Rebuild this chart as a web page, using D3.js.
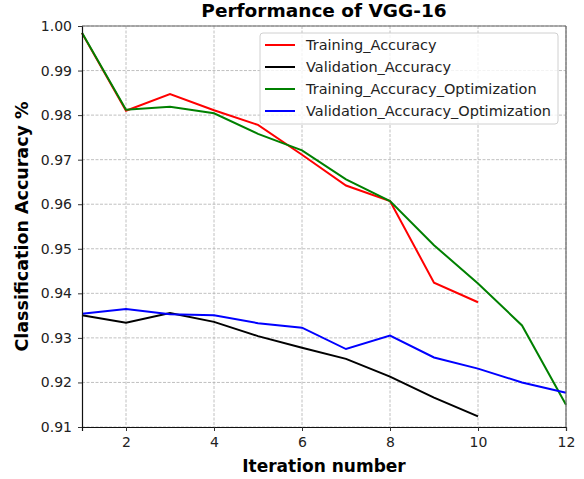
<!DOCTYPE html>
<html>
<head>
<meta charset="utf-8">
<script src="https://cdn.jsdelivr.net/npm/d3@7"></script>
<style>
  body { margin: 0; background: #fff; }
  text { font-family: "DejaVu Sans", sans-serif; }
</style>
</head>
<body>
<div id="chart"></div>
<script>
// Données
var iterations = [1, 2, 3, 4, 5, 6, 7, 8, 9, 10, 11, 12];
var training_accuracy = [0.9984, 0.9810, 0.9847, 0.9811, 0.9778, 0.9711, 0.9642, 0.9607, 0.9424, 0.9380];
var validation_accuracy = [0.9351, 0.9334, 0.9356, 0.9336, 0.9304, 0.9278, 0.9253, 0.9213, 0.9166, 0.9124];
var training_accuracy_opt = [0.9985, 0.9812, 0.9819, 0.9804, 0.9758, 0.9721, 0.9656, 0.9607, 0.9508, 0.9422, 0.9328, 0.9150];
var validation_accuracy_opt = [0.9354, 0.9365, 0.9353, 0.9351, 0.9333, 0.9323, 0.9275, 0.9305, 0.9256, 0.9231, 0.9200, 0.9177];
var series_names = ["Training_Accuracy", "Validation_Accuracy", "Training_Accuracy_Optimization", "Validation_Accuracy_Optimization"];
var series_colors = ["#ff0000", "#000000", "#008000", "#0000ff"];
var x_ticks = [2, 4, 6, 8, 10, 12];
var y_ticks = [0.91, 0.92, 0.93, 0.94, 0.95, 0.96, 0.97, 0.98, 0.99, 1.00];

var all_series = [training_accuracy, validation_accuracy, training_accuracy_opt, validation_accuracy_opt];

// Dimensions
var margin = { top: 26, right: 18, bottom: 52, left: 82 },
    width = 584 - margin.left - margin.right,
    height = 479 - margin.top - margin.bottom;

var svg = d3.select("#chart").append("svg")
    .attr("width", 584)
    .attr("height", 479);

var g = svg.append("g")
    .attr("transform", "translate(" + margin.left + "," + margin.top + ")");

// Echelles
var x = d3.scaleLinear().domain([1, 12]).range([0, width]);
var y = d3.scaleLinear().domain([0.91, 1.00]).range([height, 0]);

// Grille
g.append("g").selectAll("line")
    .data(x_ticks)
    .enter().append("line")
    .attr("x1", function (d) { return x(d); })
    .attr("x2", function (d) { return x(d); })
    .attr("y1", 0).attr("y2", height)
    .attr("stroke", "#b0b0b0").attr("stroke-width", 0.8)
    .attr("stroke-dasharray", "3,1.5");

g.append("g").selectAll("line")
    .data(y_ticks)
    .enter().append("line")
    .attr("x1", 0).attr("x2", width)
    .attr("y1", function (d) { return y(d); })
    .attr("y2", function (d) { return y(d); })
    .attr("stroke", "#b0b0b0").attr("stroke-width", 0.8)
    .attr("stroke-dasharray", "3,1.5");

// Courbes
var line = d3.line()
    .x(function (d, i) { return x(iterations[i]); })
    .y(function (d) { return y(d); });

all_series.forEach(function (s, k) {
    g.append("path")
        .datum(s)
        .attr("fill", "none")
        .attr("stroke", series_colors[k])
        .attr("stroke-width", 2)
        .attr("d", line);
});

// Axes
var xAxis = g.append("g")
    .attr("transform", "translate(0," + height + ")")
    .call(d3.axisBottom(x).tickValues(x_ticks).tickFormat(d3.format("d")).tickSizeOuter(0).tickSize(4).tickPadding(6));
var yAxis = g.append("g")
    .call(d3.axisLeft(y).tickValues(y_ticks).tickFormat(d3.format(".2f")).tickSizeOuter(0).tickSize(4).tickPadding(6));

[xAxis, yAxis].forEach(function (a) {
    a.selectAll("text").style("font-size", "14px").attr("fill", "#222");
    a.selectAll(".tick line").attr("stroke", "#333");
    a.select(".domain").attr("stroke", "#111").attr("stroke-width", 1.2);
});

// Cadre haut et droite
g.append("line").attr("x1", 0).attr("x2", width).attr("y1", 0).attr("y2", 0)
    .attr("stroke", "#666").attr("stroke-width", 1.2);
g.append("line").attr("x1", width).attr("x2", width).attr("y1", 0).attr("y2", height)
    .attr("stroke", "#666").attr("stroke-width", 1.2);

// Titres
svg.append("text")
    .attr("x", margin.left + width / 2)
    .attr("y", 17)
    .attr("text-anchor", "middle")
    .style("font-size", "18.5px")
    .style("font-weight", "bold")
    .text("Performance of VGG-16");

svg.append("text")
    .attr("x", margin.left + width / 2)
    .attr("y", 472)
    .attr("text-anchor", "middle")
    .style("font-size", "17px")
    .style("font-weight", "bold")
    .text("Iteration number");

svg.append("text")
    .attr("transform", "translate(28," + (margin.top + height / 2) + ") rotate(-90)")
    .attr("text-anchor", "middle")
    .style("font-size", "17.5px")
    .style("font-weight", "bold")
    .text("Classification Accuracy %");

// Légende
var legend = svg.append("g").attr("transform", "translate(260,33)");
legend.append("rect")
    .attr("x", 0).attr("y", 0)
    .attr("width", 298).attr("height", 91)
    .attr("rx", 3)
    .attr("fill", "#fff").attr("fill-opacity", 0.8)
    .attr("stroke", "#d0d0d0");

var items = legend.selectAll(".legend")
    .data(series_names)
    .enter().append("g")
    .attr("class", "legend")
    .attr("transform", function (d, i) { return "translate(0," + (12 + i * 22) + ")"; });

items.append("line")
    .attr("x1", 5).attr("x2", 35)
    .attr("stroke", function (d, i) { return series_colors[i]; })
    .attr("stroke-width", 2);

items.append("text")
    .attr("x", 46)
    .attr("dy", "0.35em")
    .style("font-size", "14.5px")
    .attr("fill", "#222")
    .text(function (d) { return d; });
</script>
</body>
</html>
